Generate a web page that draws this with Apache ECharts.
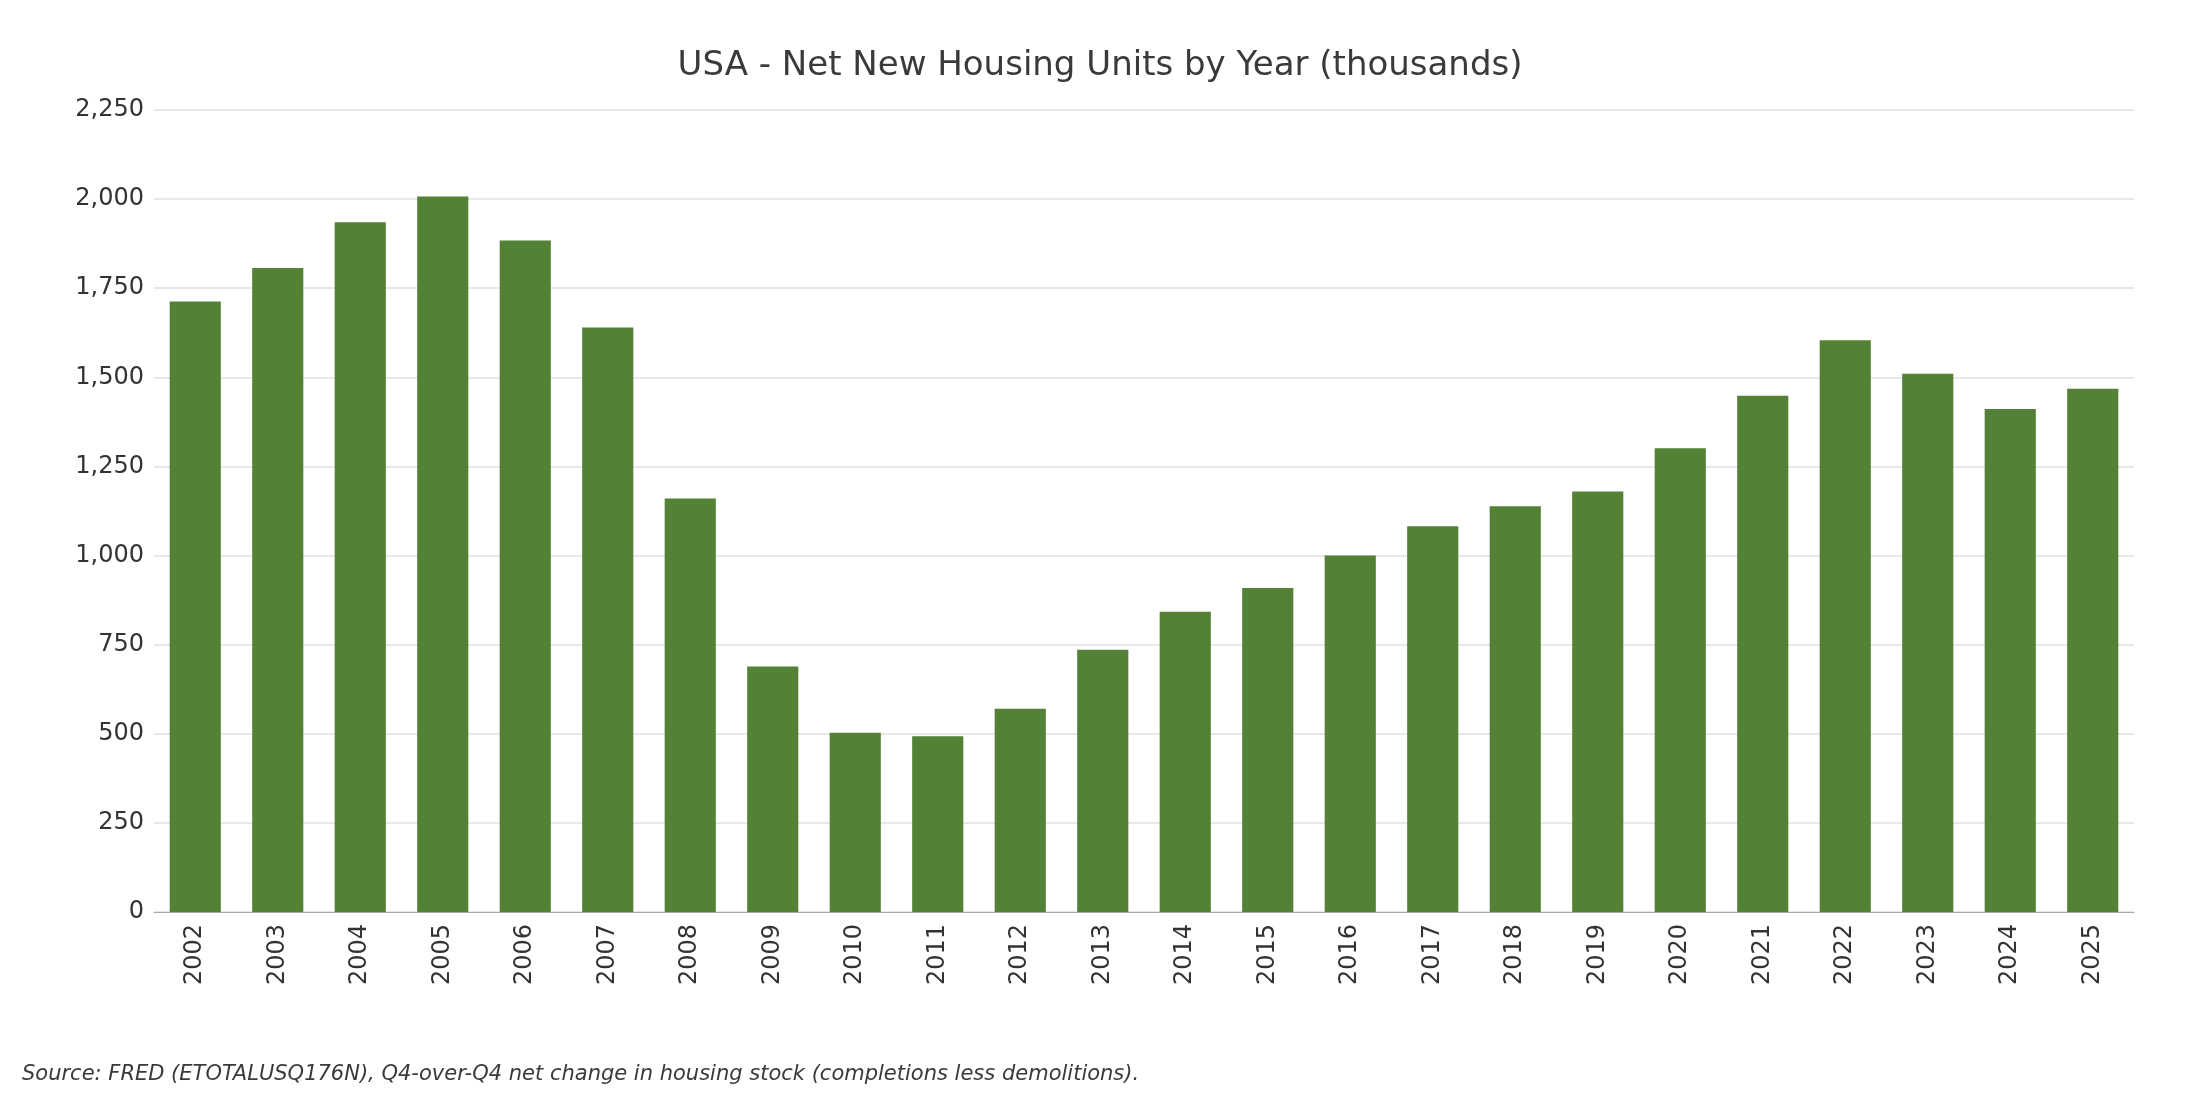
<!DOCTYPE html>
<html><head><meta charset="utf-8">
<script src="https://cdn.jsdelivr.net/npm/echarts@6/dist/echarts.min.js"></script>
<style>html,body{margin:0;padding:0;background:#fff}#c{width:2200px;height:1100px}</style>
</head><body><div id="c"></div>
<script>
const years = ["2002","2003","2004","2005","2006","2007","2008","2009","2010","2011","2012","2013","2014","2015","2016","2017","2018","2019","2020","2021","2022","2023","2024","2025"];
const netUnits = [1713,1807,1935,2007,1884,1640,1160,689,503,493,570,736,842,909,1000,1082,1138,1180,1301,1448,1604,1510,1411,1468];
const yTicks = {min:0,max:2250,interval:250};
const chart = echarts.init(document.getElementById('c'));
chart.setOption({
  backgroundColor:'#fff',
  textStyle:{fontFamily:'DejaVu Sans'},
  title:{text:'USA - Net New Housing Units by Year (thousands)',left:'center',top:44,
    textStyle:{fontSize:34,fontWeight:'normal',color:'#3a3a3a',fontFamily:'DejaVu Sans'}},
  graphic:[{type:'text',left:22,top:1064,style:{text:'Source: FRED (ETOTALUSQ176N), Q4-over-Q4 net change in housing stock (completions less demolitions).',
    font:'italic 21px "DejaVu Sans"',fill:'#3a3a3a'}}],
  grid:{left:154,right:66,top:110,bottom:188},
  xAxis:{type:'category',data:years,axisTick:{show:false},
    axisLine:{lineStyle:{color:'#aaa'}},
    axisLabel:{rotate:90,fontSize:24,color:'#333',margin:12}},
  yAxis:{type:'value',min:yTicks.min,max:yTicks.max,interval:yTicks.interval,
    axisLabel:{fontSize:24,color:'#333',margin:10,formatter:v=>v.toLocaleString('en-US')},
    splitLine:{lineStyle:{color:'#e0e0e0',width:1.5}},axisLine:{show:false},axisTick:{show:false}},
  series:[{type:'bar',data:netUnits,barCategoryGap:'38%',itemStyle:{color:'#538135'}}]
});
</script></body></html>
